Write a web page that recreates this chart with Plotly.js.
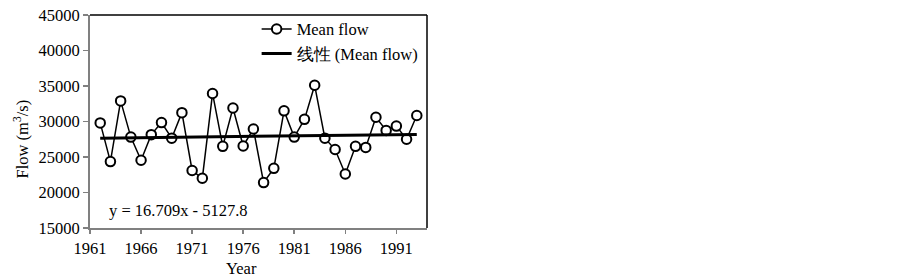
<!DOCTYPE html>
<html><head><meta charset="utf-8">
<script src="https://cdn.plot.ly/plotly-3.0.1.min.js"></script>
<style>html,body{margin:0;padding:0;background:#fff}#c{width:903px;height:278px}</style>
</head><body><div id="c"></div>
<script>
var years = [1962,1963,1964,1965,1966,1967,1968,1969,1970,1971,1972,1973,1974,1975,1976,1977,1978,1979,1980,1981,1982,1983,1984,1985,1986,1987,1988,1989,1990,1991,1992,1993];
var meanFlow = [29800,24350,32900,27800,24550,28150,29850,27650,31250,23100,22000,33950,26500,31900,26550,28950,21400,23400,31500,27800,30300,35100,27650,26050,22600,26500,26350,30600,28750,29350,27500,30850];
var trendYears = [1962,1993];
var trendValues = [27655,28173];
var xTicks = [1961,1966,1971,1976,1981,1986,1991];
var yTicks = [15000,20000,25000,30000,35000,40000,45000];
var seriesName = 'Mean flow';
var trendName = '线性 (Mean flow)';
var equation = 'y = 16.709x - 5127.8';
var yTitle = 'Flow (m<sup>3</sup>/s)';
var xTitle = 'Year';

var fam = '"Liberation Serif", "Times New Roman", serif';
var font = {family: fam, size: 16.5, color: '#000'};
var tickFont = {family: fam, size: 16.5, color: '#000'};
var data = [
  {x: years, y: meanFlow, name: seriesName, type: 'scatter', mode: 'lines+markers',
   line: {color: '#000', width: 1.5},
   marker: {symbol: 'circle', size: 9.5, color: '#fff', line: {color: '#000', width: 2}}},
  {x: trendYears, y: trendValues, name: trendName, type: 'scatter', mode: 'lines',
   line: {color: '#000', width: 3}}
];
var layout = {
  width: 903, height: 278,
  margin: {l: 90, r: 476, t: 13, b: 50, pad: 0},
  paper_bgcolor: '#fff', plot_bgcolor: '#fff',
  font: font,
  showlegend: true,
  legend: {x: 0.99, xanchor: 'right', y: 1.015, yanchor: 'top', bgcolor: 'rgba(0,0,0,0)',
           font: font, tracegroupgap: 0, itemwidth: 30},
  xaxis: {range: [1961, 1994], tickvals: xTicks, ticktext: xTicks.map(String),
          showgrid: false, zeroline: false, showline: true, linecolor: '#808080', linewidth: 2,
          ticks: 'outside', ticklen: 4, tickcolor: '#808080', tickwidth: 1.5, tickfont: tickFont},
  yaxis: {range: [15000, 45000], tickvals: yTicks, ticktext: yTicks.map(String),
          showgrid: false, zeroline: false, showline: true, linecolor: '#808080', linewidth: 2,
          ticks: 'outside', ticklen: 5, tickcolor: '#808080', tickwidth: 1.5, tickfont: tickFont},
  shapes: [
    {type: 'line', xref: 'paper', yref: 'paper', x0: 0, x1: 1, y0: 1, y1: 1, line: {color: '#000', width: 1.5}},
    {type: 'line', xref: 'paper', yref: 'paper', x0: 1, x1: 1, y0: 0, y1: 1, line: {color: '#000', width: 1.5}}
  ],
  annotations: [
    {text: equation, xref: 'paper', yref: 'paper', x: 0.05, y: 0.08, xanchor: 'left', yanchor: 'middle',
     showarrow: false, font: font},
    {text: yTitle, xref: 'paper', yref: 'paper', x: -0.202, y: 0.42, xanchor: 'center', yanchor: 'middle',
     textangle: -90, showarrow: false, font: font},
    {text: xTitle, xref: 'paper', yref: 'paper', x: 0.451, y: -0.19, xanchor: 'center', yanchor: 'middle',
     showarrow: false, font: font}
  ]
};
Plotly.newPlot('c', data, layout, {displayModeBar: false, staticPlot: true});
</script></body></html>
